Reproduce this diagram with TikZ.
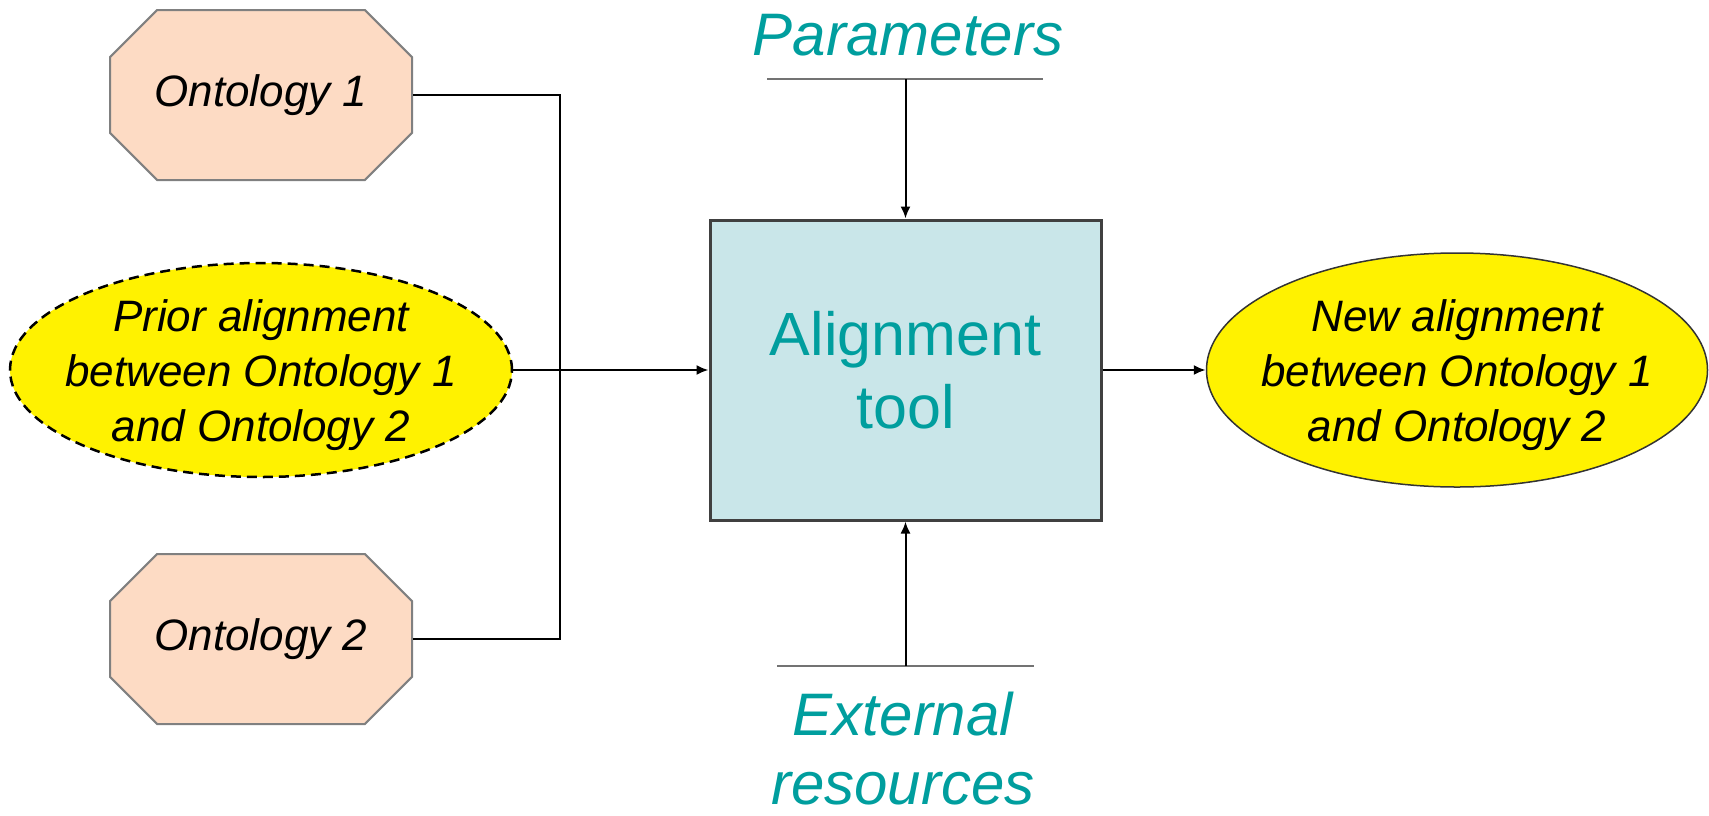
\documentclass[tikz,border=0pt]{standalone}
\usepackage{fontspec}
\setmainfont{Liberation Sans}
\usetikzlibrary{arrows.meta, shapes.geometric, shapes.misc}

\definecolor{peach}{RGB}{253,219,196}
\definecolor{toolfill}{RGB}{201,230,233}
\definecolor{tealtext}{RGB}{0,158,158}

\tikzset{
    onto/.style={chamfered rectangle, chamfered rectangle xsep=13.3pt, chamfered rectangle ysep=13.3pt,
        draw=gray, line width=1pt, fill=peach, minimum width=151pt, minimum height=85pt,
        inner sep=0pt, font=\itshape\fontsize{22}{26}\selectfont},
    alignell/.style={ellipse, fill=yellow, inner sep=0pt},
    elltext/.style={align=center, inner sep=0pt, font=\itshape\fontsize{22}{27.5}\selectfont},
    toolbox/.style={rectangle, draw=black!75, line width=1.5pt, fill=toolfill,
        minimum width=195.5pt, minimum height=150pt, align=center, text=tealtext,
        font=\fontsize{30.5}{36.5}\selectfont},
    side/.style={inner sep=0pt, align=center, text=tealtext, font=\itshape\fontsize{30}{34.5}\selectfont},
    bar/.style={draw=black!55, line width=1pt},
    wire/.style={draw=black, line width=1pt},
    conn/.style={wire, -{Latex[length=6pt,width=5pt]}}
}

\begin{document}
\begin{tikzpicture}[x=0.5pt, y=-0.5pt]
    \useasboundingbox (0,0) rectangle (1709,815);

    % inputs on the left
    \node[onto] (onto1) at (261,95) {Ontology 1};
    \node[onto] (onto2) at (261,639) {Ontology 2};
    \node[alignell, draw=black, line width=1.25pt, dash pattern=on 5pt off 3pt,
        minimum width=251pt, minimum height=107pt] (prior) at (261,370) {};
    \node[elltext, yshift=-2.5pt] (priortext) at (prior) {Prior alignment\\between Ontology 1\\and Ontology 2};

    % the tool
    \node[toolbox] (tool) at (905.5,370) {Alignment\\tool};

    % output
    \node[alignell, draw=black!80, line width=0.75pt,
        minimum width=250.5pt, minimum height=117pt] (newal) at (1457,370) {};
    \node[elltext, yshift=-2.5pt] (newaltext) at (newal) {New alignment\\between Ontology 1\\and Ontology 2};

    % parameters and resources
    \node[side, anchor=base] (params) at (908,55) {Parameters};
    \coordinate (parL) at (767,79);
    \coordinate (parR) at (1043,79);
    \draw[bar] (parL) -- (parR);

    \coordinate (extL) at (777,666);
    \coordinate (extR) at (1034,666);
    \draw[bar] (extL) -- (extR);
    \node[side, anchor=north] (ext) at (903,692) {External\\resources};

    % connectors
    \coordinate (join) at (560,370);
    \draw[wire] (onto1.east) -| (join);
    \draw[wire] (onto2.east) -| (join);
    \draw[conn] (prior.east) -- (tool.west);
    \draw[conn] (tool.east) -- (newal.west);
    \draw[conn] (parL -| tool.north) -- (tool.north);
    \draw[conn] (extL -| tool.south) -- (tool.south);
\end{tikzpicture}
\end{document}
